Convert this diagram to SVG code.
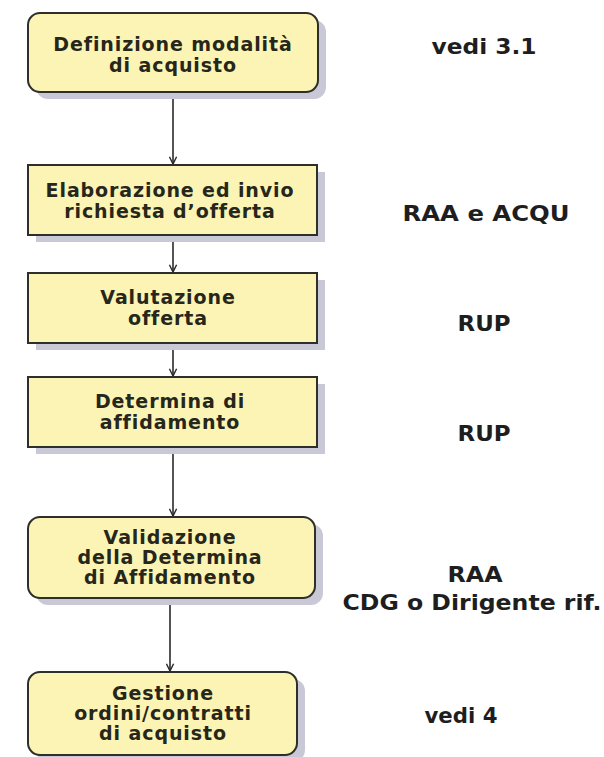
<svg xmlns="http://www.w3.org/2000/svg" width="604" height="757" viewBox="0 0 604 757">
<style>
.sh{fill:#c9c8d6;stroke:none}
.bx{fill:#fbf4b4;stroke:#2e2e2a;stroke-width:2}
.t{font-family:"DejaVu Sans",Verdana,sans-serif;font-weight:bold;font-size:19px;letter-spacing:0.9px;fill:#26261a;text-anchor:middle}
.r{font-family:"DejaVu Sans",Verdana,sans-serif;font-weight:bold;font-size:21px;fill:#1e1e1e;text-anchor:middle}
.ln{stroke:#2a2a2a;stroke-width:1.6;fill:none}
</style>
<defs>
<marker id="ah" viewBox="0 0 10 10" refX="9" refY="5" markerWidth="9" markerHeight="9" markerUnits="userSpaceOnUse" orient="auto">
<path d="M1,1 L9,5 L1,9" fill="none" stroke="#2a2a2a" stroke-width="1.6"/>
</marker>
</defs>
<rect width="604" height="757" fill="#ffffff"/>
<g id="connectors">
<line class="ln" x1="173" y1="92" x2="173" y2="164" marker-end="url(#ah)"/>
<line class="ln" x1="173" y1="235" x2="173" y2="272" marker-end="url(#ah)"/>
<line class="ln" x1="173" y1="343" x2="173" y2="376" marker-end="url(#ah)"/>
<line class="ln" x1="173" y1="447" x2="173" y2="516" marker-end="url(#ah)"/>
<line class="ln" x1="170" y1="598" x2="170" y2="671" marker-end="url(#ah)"/>
</g>
<g id="n1">
<rect class="sh" x="36" y="20" width="290" height="79" rx="12"/>
<rect class="bx" x="28" y="13" width="290" height="79" rx="12"/>
<text class="t" x="173" y="51">Definizione modalità</text>
<text class="t" x="173" y="72">di acquisto</text>
</g>
<g id="n2">
<rect class="sh" x="36" y="172" width="289" height="70"/>
<rect class="bx" x="28" y="165" width="289" height="70"/>
<text class="t" x="170" y="197">Elaborazione ed invio</text>
<text class="t" x="170" y="218">richiesta d’offerta</text>
</g>
<g id="n3">
<rect class="sh" x="36" y="280" width="289" height="70"/>
<rect class="bx" x="28" y="273" width="289" height="70"/>
<text class="t" x="168" y="304">Valutazione</text>
<text class="t" x="168" y="325">offerta</text>
</g>
<g id="n4">
<rect class="sh" x="36" y="384" width="289" height="70"/>
<rect class="bx" x="28" y="377" width="289" height="70"/>
<text class="t" x="170" y="408">Determina di</text>
<text class="t" x="170" y="429">affidamento</text>
</g>
<g id="n5">
<rect class="sh" x="36" y="524" width="287" height="81" rx="12"/>
<rect class="bx" x="28" y="517" width="287" height="81" rx="12"/>
<text class="t" x="170" y="544">Validazione</text>
<text class="t" x="170" y="564">della Determina</text>
<text class="t" x="170" y="584">di Affidamento</text>
</g>
<g id="n6">
<rect class="sh" x="36" y="679" width="269" height="83" rx="12"/>
<rect class="bx" x="28" y="672" width="269" height="83" rx="12"/>
<text class="t" x="163" y="700">Gestione</text>
<text class="t" x="163" y="720">ordini/contratti</text>
<text class="t" x="163" y="740">di acquisto</text>
</g>
<g id="labels">
<text class="r" x="484" y="54" textLength="105" lengthAdjust="spacingAndGlyphs">vedi 3.1</text>
<text class="r" x="486" y="221" textLength="167" lengthAdjust="spacingAndGlyphs">RAA e ACQU</text>
<text class="r" x="484" y="331" textLength="53" lengthAdjust="spacingAndGlyphs">RUP</text>
<text class="r" x="484" y="441" textLength="53" lengthAdjust="spacingAndGlyphs">RUP</text>
<text class="r" x="475" y="582" textLength="55" lengthAdjust="spacingAndGlyphs">RAA</text>
<text class="r" x="472" y="610" textLength="259" lengthAdjust="spacingAndGlyphs">CDG o Dirigente rif.</text>
<text class="r" x="461" y="723" textLength="73" lengthAdjust="spacingAndGlyphs">vedi 4</text>
</g>
</svg>
